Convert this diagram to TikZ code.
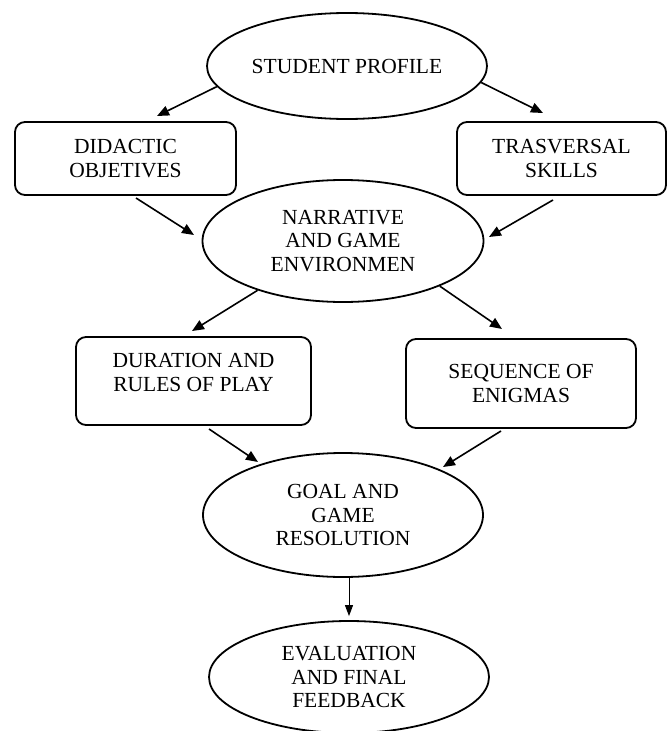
\documentclass[tikz,border=0pt]{standalone}
\usepackage{fontspec}
\setmainfont{Liberation Serif}
\usetikzlibrary{shapes.geometric,arrows.meta}
\begin{document}
\begin{tikzpicture}[x=1pt,y=1pt,
  txt/.style={font=\fontsize{21.5}{23.5}\selectfont,align=center},
  ell/.style={draw,line width=1.8pt,ellipse,inner sep=0pt,txt},
  rbox/.style={draw,line width=1.8pt,rounded corners=10pt,inner sep=0pt,txt},
  arr/.style={line width=1.6pt,-{Triangle[length=12pt,width=10pt]}},
  thinarr/.style={line width=1pt,-{Triangle[length=11pt,width=8pt]}}]
\useasboundingbox (0,0) rectangle (668,-731);
\node[ell,minimum width=280pt,minimum height=106pt] (sp) at (347,-66) {STUDENT PROFILE};
\node[rbox,minimum width=221pt,minimum height=73pt] (did) at (125.5,-158.5) {DIDACTIC\\OBJETIVES};
\node[rbox,minimum width=209pt,minimum height=73pt] (tra) at (561.5,-158.5) {TRASVERSAL\\SKILLS};
\node[ell,minimum width=281pt,minimum height=122pt] (nar) at (343,-241) {NARRATIVE\\AND GAME\\ENVIRONMEN};
\node[rbox,minimum width=235pt,minimum height=88pt] (dur) at (193.5,-381) {};
\node[txt] (durt) at (193.5,-372.5) {DURATION AND\\RULES OF PLAY};
\node[rbox,minimum width=230pt,minimum height=89pt] (seq) at (521,-383.5) {SEQUENCE OF\\ENIGMAS};
\node[ell,minimum width=280pt,minimum height=124pt] (goal) at (343,-515) {GOAL AND\\GAME\\RESOLUTION};
\node[ell,minimum width=280pt,minimum height=112pt] (eval) at (349,-677) {EVALUATION\\AND FINAL\\FEEDBACK};
\coordinate (e1) at (157,-116);
\coordinate (e2) at (543,-113);
\coordinate (s3) at (136,-198);
\coordinate (e3) at (194,-235);
\coordinate (s4) at (553,-200);
\coordinate (e4) at (489,-237);
\coordinate (e5) at (192,-331);
\coordinate (e6) at (502,-329);
\coordinate (s7) at (209,-429);
\coordinate (e7) at (258,-462);
\coordinate (s8) at (501,-431);
\coordinate (e8) at (443,-467);
\draw[arr] (sp.189) -- (e1);
\draw[arr] (sp.-7) -- (e2);
\draw[arr] (s3) -- (e3);
\draw[arr] (s4) -- (e4);
\draw[arr] (nar.210) -- (e5);
\draw[arr] (nar.-25) -- (e6);
\draw[arr] (s7) -- (e7);
\draw[arr] (s8) -- (e8);
\draw[thinarr,shorten >=4pt] (eval.north |- goal.south) -- (eval.north);
\end{tikzpicture}
\end{document}
